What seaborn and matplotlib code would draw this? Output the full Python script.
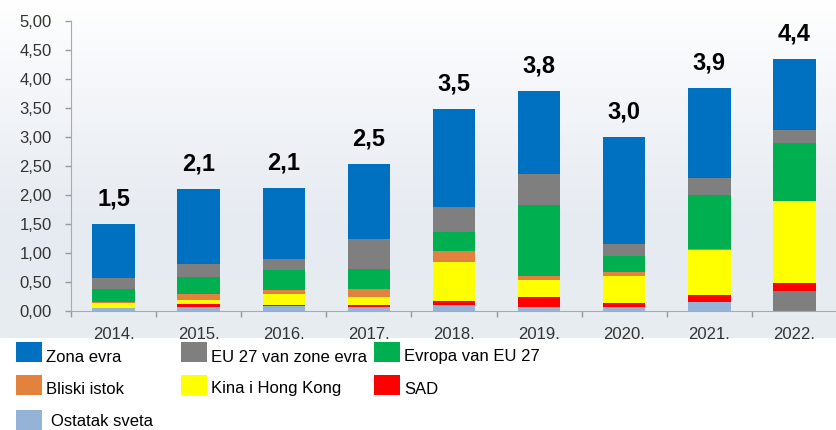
import numpy as np
import pandas as pd
import matplotlib
matplotlib.use('Agg')
import matplotlib.pyplot as plt
import seaborn as sns
from matplotlib.patches import Rectangle
from matplotlib.ticker import FuncFormatter, FixedLocator

# ── data (bottom → top of every bar) ─────────────────────────────────────────
years = ['2014.', '2015.', '2016.', '2017.', '2018.', '2019.', '2020.', '2021.', '2022.']
ostatak_sveta = [0.05, 0.065, 0.08, 0.065, 0.11, 0.065, 0.065, 0.15, 0.35]
sad           = [0.00, 0.05, 0.015, 0.045, 0.07, 0.185, 0.07, 0.12, 0.135]
kina_hk       = [0.09, 0.07, 0.19, 0.13, 0.66, 0.29, 0.475, 0.785, 1.405]
bliski_istok  = [0.01, 0.10, 0.085, 0.14, 0.19, 0.055, 0.06, 0.01, 0.00]
evropa_van_eu = [0.23, 0.30, 0.34, 0.35, 0.34, 1.235, 0.27, 0.935, 1.00]
eu27_van_ze   = [0.19, 0.22, 0.19, 0.515, 0.43, 0.535, 0.22, 0.30, 0.23]
zona_evra     = [0.93, 1.30, 1.22, 1.295, 1.69, 1.435, 1.84, 1.55, 1.22]
total_labels  = ['1,5', '2,1', '2,1', '2,5', '3,5', '3,8', '3,0', '3,9', '4,4']

layers = [
    ('Ostatak sveta',        ostatak_sveta, '#95B3D7'),
    ('SAD',                  sad,           '#FF0000'),
    ('Kina i Hong Kong',     kina_hk,       '#FFFF00'),
    ('Bliski istok',         bliski_istok,  '#E3823C'),
    ('Evropa van EU 27',     evropa_van_eu, '#00B050'),
    ('EU 27 van zone evra',  eu27_van_ze,   '#7F7F7F'),
    ('Zona evra',            zona_evra,     '#0070C0'),
]

df = pd.DataFrame({name: vals for name, vals, _ in layers}, index=years)
cum = df.cumsum(axis=1)

# ── figure ───────────────────────────────────────────────────────────────────
sns.set_style('white')
plt.rcParams['font.family'] = ['Liberation Sans', 'DejaVu Sans']

W, H = 837, 430
fig = plt.figure(figsize=(W / 100, H / 100), dpi=100)
fig.patch.set_facecolor('white')

# soft backdrop like the original slide
bg = fig.add_axes([0, 0, 1, 1], zorder=-10)
grad = np.linspace(0, 1, 256).reshape(-1, 1)
bg_cmap = matplotlib.colors.LinearSegmentedColormap.from_list(
    'bg', ['#e8edf2', '#e6ebf1', '#f1f4f8', '#ffffff'], N=256)
bg.imshow(grad, aspect='auto', cmap=bg_cmap, extent=[0, 1, 1 - 338 / H, 1.0],
          origin='lower')
bg.set_xlim(0, 1)
bg.set_ylim(0, 1)
bg.axis('off')

ax = fig.add_axes([71 / W, 1 - 311 / H, 1 - 71 / W, 290 / H])
ax.patch.set_alpha(0)

# stacked bars: draw cumulative heights from the top layer down
for name, vals, color in reversed(layers):
    colors = [color] * len(years)
    if name == 'Ostatak sveta':
        colors[-1] = '#7F7F7F'   # 2022 bottom segment shown in grey in the source
    sns.barplot(x=years, y=cum[name].values, hue=years, palette=colors,
                width=0.5, linewidth=0, saturation=1, legend=False, ax=ax)

totals = cum['Zona evra'].values
for i, lab in enumerate(total_labels):
    ax.annotate(lab, (i, totals[i]), xytext=(0, 18), textcoords='offset points',
                ha='center', va='center', fontsize=17, fontweight='bold', color='black')

ax.set_xlim(-0.5, len(years) - 0.5)
ax.set_ylim(0, 5)
ax.set_yticks(np.arange(0, 5.01, 0.5))
ax.yaxis.set_major_formatter(FuncFormatter(lambda v, p: f'{v:.2f}'.replace('.', ',')))
ax.tick_params(axis='y', left=True, length=4, width=1, color='#999999',
               pad=10, labelsize=12, labelcolor='#333333')
ax.tick_params(axis='x', bottom=False, pad=8, labelsize=12, labelcolor='#333333')
ax.xaxis.set_minor_locator(FixedLocator(np.arange(-0.5, len(years), 1.0)))
ax.tick_params(axis='x', which='minor', bottom=True, length=4, width=1, color='#999999')
ax.set_xlabel('')
ax.set_ylabel('')

sns.despine(ax=ax, top=True, right=True)
ax.spines['left'].set_color('#aaaaaa')
ax.spines['bottom'].set_color('#aaaaaa')

# legend, laid out row by row as in the source
cmap = {name: color for name, _, color in layers}
legend_rows = [['Zona evra', 'EU 27 van zone evra', 'Evropa van EU 27'],
               ['Bliski istok', 'Kina i Hong Kong', 'SAD'],
               ['Ostatak sveta']]
col_x = [16, 181, 374]
row_top = [342, 375, 410]
row_text = [357, 389, 421]
for r, row in enumerate(legend_rows):
    for c, name in enumerate(row):
        fig.add_artist(Rectangle((col_x[c] / W, 1 - (row_top[r] + 20) / H),
                                 26 / W, 20 / H, transform=fig.transFigure,
                                 facecolor=cmap[name], edgecolor='none'))
        tx = col_x[c] + 30 + (5 if name == 'Ostatak sveta' else 0)
        fig.text(tx / W, 1 - row_text[r] / H, name, ha='left', va='center',
                 fontsize=12, color='black')

fig.savefig('out.png', dpi=100, facecolor='white')
